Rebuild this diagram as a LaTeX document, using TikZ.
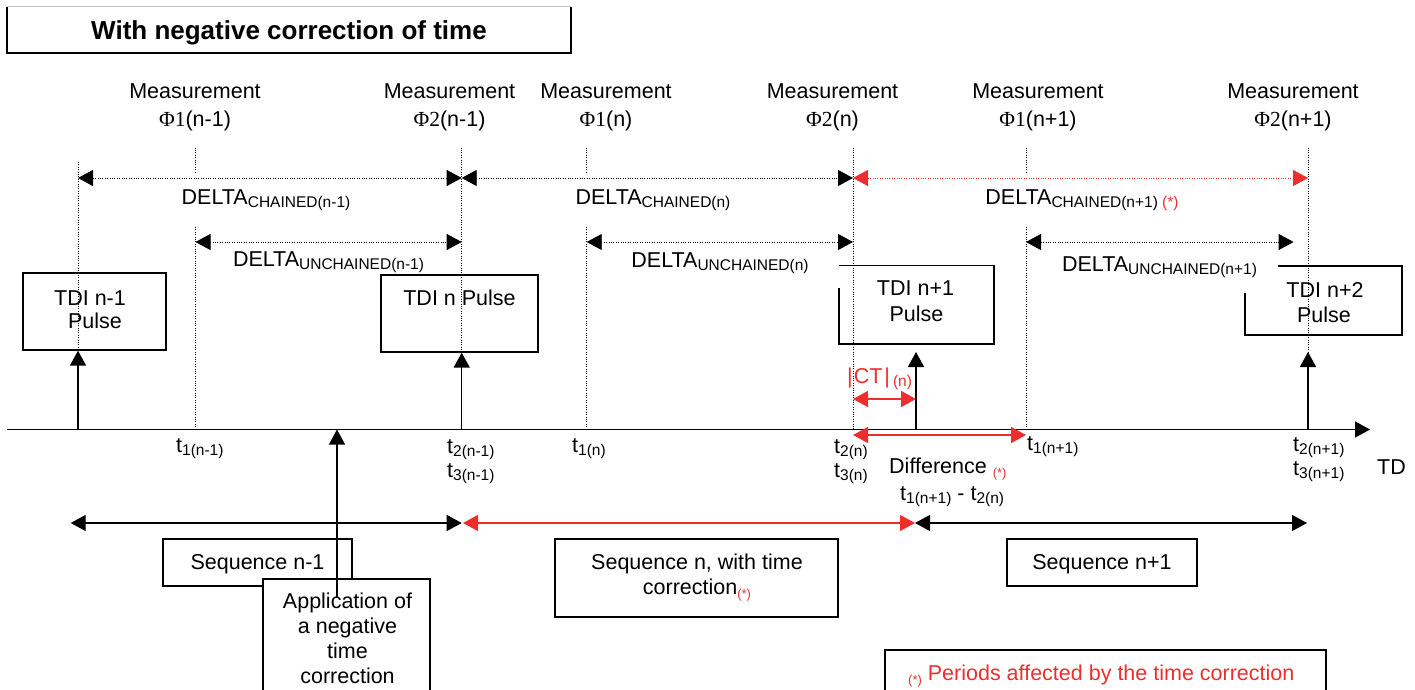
\documentclass[tikz,border=0pt]{standalone}
\usepackage{fontspec}
\setmainfont{Liberation Sans}
\newfontfamily\serifphi{Liberation Serif}
\usetikzlibrary{arrows.meta}
\definecolor{cred}{RGB}{238,45,45}
\newcommand\lowsub[1]{\raisebox{-3pt}{\fontsize{15.5}{16}\selectfont #1}}
\newcommand\redast{\textcolor{cred}{\raisebox{-4pt}{\fontsize{13}{14}\selectfont(*)}}}
\newcommand\phiN[1]{{\serifphi Φ#1}}
\begin{document}
\begin{tikzpicture}[x=1pt,y=-1pt,
  font=\fontsize{21.5}{25}\selectfont,
  Tri/.tip={Triangle[length=15pt,width=16pt]},
  dotln/.style={line width=0.9pt, dash pattern=on 0.9pt off 1.5pt},
  dimarr/.style={dotln, Tri-Tri},
  solidarr/.style={line width=1.5pt, -Tri},
  dblarr/.style={line width=1.3pt, Tri-Tri},
  boxln/.style={draw, line width=1.4pt, inner sep=0pt},
  lbl/.style={inner sep=0pt, anchor=base},
  lblw/.style={inner sep=0pt, anchor=base west},
]
\useasboundingbox (0,0) rectangle (1415,690);
\clip (0,0) rectangle (1415,690);

% axis reference points
\foreach \n/\x in {A/78,B/195.5,C/461.7,D/586.7,E/853,F/1026,G/1308,H/916,K/337}
  \coordinate (ax\n) at (\x,429.5);
\coordinate (yTop) at (0,147.5);
\coordinate (yTopA) at (0,162);
\coordinate (yGap1) at (0,173.5);
\coordinate (yGap2) at (0,227);
\coordinate (yChain) at (0,178);
\coordinate (yUn) at (0,242);
\coordinate (yCT) at (0,399);
\coordinate (yDiff) at (0,435);
\coordinate (yPulse) at (0,352);

% title
\draw[line width=1.4pt] (7,7) -- (7,53) -- (571,53) -- (571,7);
\draw[black!25, line width=1pt] (7,7) -- (571,7);
\node[lbl, font=\fontsize{26}{30}\selectfont\bfseries] (title) at (289,40) {With negative correction of time};

% measurement labels
\node[lbl] (m1a) at (195,99) {Measurement};
\node[lbl] (m1b) at (195,127) {\phiN{1}(n-1)};
\node[lbl] (m2a) at (449.5,99) {Measurement};
\node[lbl] (m2b) at (449.5,127) {\phiN{2}(n-1)};
\node[lbl] (m3a) at (606,99) {Measurement};
\node[lbl] (m3b) at (606,127) {\phiN{1}(n)};
\node[lbl] (m4a) at (832.5,99) {Measurement};
\node[lbl] (m4b) at (832.5,127) {\phiN{2}(n)};
\node[lbl] (m5a) at (1038,99) {Measurement};
\node[lbl] (m5b) at (1038,127) {\phiN{1}(n+1)};
\node[lbl] (m6a) at (1293,99) {Measurement};
\node[lbl] (m6b) at (1293,127) {\phiN{2}(n+1)};

% dotted guide lines
\draw[dotln] (axA |- yTopA) -- (axA);
\draw[dotln] (axB |- yTop) -- (axB |- yGap1);
\draw[dotln] (axB |- yGap2) -- (axB);
\draw[dotln] (axC |- yTop) -- (axC);
\draw[dotln] (axD |- yTop) -- (axD |- yGap1);
\draw[dotln] (axD |- yGap2) -- (axD);
\draw[dotln] (axE |- yTop) -- (axE);
\draw[dotln] (axF |- yTop) -- (axF |- yGap1);
\draw[dotln] (axF |- yGap2) -- (axF);
\draw[dotln] (axG |- yTop) -- (axG);

% DELTA arrows
\draw[dimarr] (axA |- yChain) -- (axC |- yChain);
\draw[dimarr] (axC |- yChain) -- (axE |- yChain);
\draw[dimarr, cred] (axE |- yChain) -- (axG |- yChain);
\draw[dimarr] (axB |- yUn) -- (axC |- yUn);
\draw[dimarr] (axD |- yUn) -- (axE |- yUn);
\coordinate (unEnd) at (1293.6,242);
\draw[dimarr] (axF |- yUn) -- (unEnd);

\node[lbl] (dc1) at (266,204) {DELTA\lowsub{CHAINED(n-1)}};
\node[lbl] (dc2) at (653,204) {DELTA\lowsub{CHAINED(n)}};
\node[lbl] (dc3) at (1082,204) {DELTA\lowsub{CHAINED(n+1) \textcolor{cred}{(*)}}};
\node[lbl] (du1) at (328.5,266) {DELTA\lowsub{UNCHAINED(n-1)}};
\node[lbl] (du2) at (720,267) {DELTA\lowsub{UNCHAINED(n)}};
\node[lbl] (du3) at (1159.5,271) {DELTA\lowsub{UNCHAINED(n+1)}};

% TDI boxes
\node[boxln, minimum width=143pt, minimum height=77pt] (tdiA) at (94.5,311.5) {};
\node[lbl] (tdiAt1) at (90,305) {TDI n-1};
\node[lbl] (tdiAt2) at (95,328) {Pulse};
\node[boxln, minimum width=157pt, minimum height=77pt] (tdiB) at (459.5,313.5) {};
\node[lbl] (tdiBt) at (459.5,305) {TDI n Pulse};
\draw[line width=1.4pt] (839,288) -- (839,344) -- (994,344) -- (994,265.5) -- (839,265.5);
\node[lbl] (tdiCt1) at (915.5,295) {TDI n+1};
\node[lbl] (tdiCt2) at (916.5,321) {Pulse};
\draw[line width=1.4pt] (1245,293) -- (1245,335) -- (1402,335) -- (1402,266) -- (1278,266);
\node[lbl] (tdiDt1) at (1325,297) {TDI n+2};
\node[lbl] (tdiDt2) at (1324,322) {Pulse};

% pulse arrows
\draw[solidarr] (axA) -- (axA |- tdiA.south);
\draw[solidarr] (axC) -- (axC |- tdiB.south);
\draw[solidarr] (axH) -- (axH |- yPulse);
\draw[solidarr] (axG) -- (axG |- yPulse);

% time axis
\coordinate (axStart) at (7,429.5);
\coordinate (axEnd) at (1370,429.5);
\draw[line width=1.5pt, -Tri] (axStart) -- (axEnd);
\node[lblw] (td) at (1377,474) {TD};

% red correction arrows
\draw[dblarr, line width=1.5pt, cred] (axE |- yCT) -- (axH |- yCT);
\draw[dblarr, line width=1.5pt, cred] (axE |- yDiff) -- (axF |- yDiff);
\node[lblw, text=cred] (ct) at (847,383) {|\kern1ptCT\kern2pt|\kern3pt\lowsub{(n)}};

% time labels
\node[lblw] (t1a) at (176,452) {t\lowsub{1(n-1)}};
\node[lblw] (t2a) at (447,453) {t\lowsub{2(n-1)}};
\node[lblw] (t3a) at (447,477) {t\lowsub{3(n-1)}};
\node[lblw] (t1b) at (572,452) {t\lowsub{1(n)}};
\node[lblw] (t2b) at (834,453) {t\lowsub{2(n)}};
\node[lblw] (t3b) at (834,477) {t\lowsub{3(n)}};
\node[lblw] (t1c) at (1027,450) {t\lowsub{1(n+1)}};
\node[lblw] (t2c) at (1293,451) {t\lowsub{2(n+1)}};
\node[lblw] (t3c) at (1293,475) {t\lowsub{3(n+1)}};
\node[lblw] (diff) at (889,473) {Difference \redast};
\node[lblw] (diff2) at (900,500) {t\lowsub{1(n+1)} - t\lowsub{2(n)}};

% sequence arrows
\coordinate (s0) at (70.7,523);
\coordinate (s1) at (461.7,523);
\coordinate (s1r) at (463,523);
\coordinate (s2) at (915,523);
\coordinate (s3) at (1307,523);
\draw[dblarr] (s0) -- (s1);
\draw[dblarr, cred] (s1r) -- (s2);
\draw[dblarr] (s2) -- (s3);

% sequence boxes
\node[boxln, minimum width=189pt, minimum height=47pt] (seqA) at (257.5,562.5) {};
\node[lbl] (seqAt) at (257.5,569) {Sequence n-1};
\node[boxln, minimum width=283pt, minimum height=78pt] (seqB) at (696.5,578) {};
\node[lbl] (seqBt1) at (697,569) {Sequence n, with time};
\node[lbl] (seqBt2) at (697,594) {correction\redast};
\node[boxln, minimum width=190pt, minimum height=47pt] (seqC) at (1102,562.5) {};
\node[lbl] (seqCt) at (1102,569) {Sequence n+1};

% application box
\node[boxln, fill=white, minimum width=167pt, minimum height=126pt] (app) at (346.5,642) {};
\node[lbl] (appt1) at (347.5,608) {Application of};
\node[lbl] (appt2) at (347.5,633) {a negative};
\node[lbl] (appt3) at (347.5,658) {time};
\node[lbl] (appt4) at (347.5,683) {correction};
\coordinate (appTail) at (337,598);
\draw[solidarr, line width=1.3pt] (appTail) -- (axK);

% legend
\node[boxln, minimum width=441pt, minimum height=55pt] (legend) at (1105.5,677.5) {};
\node[lblw, text=cred] (legendt) at (908,680) {\raisebox{-4pt}{\fontsize{13}{14}\selectfont(*)} Periods affected by the time correction};
\end{tikzpicture}
\end{document}
